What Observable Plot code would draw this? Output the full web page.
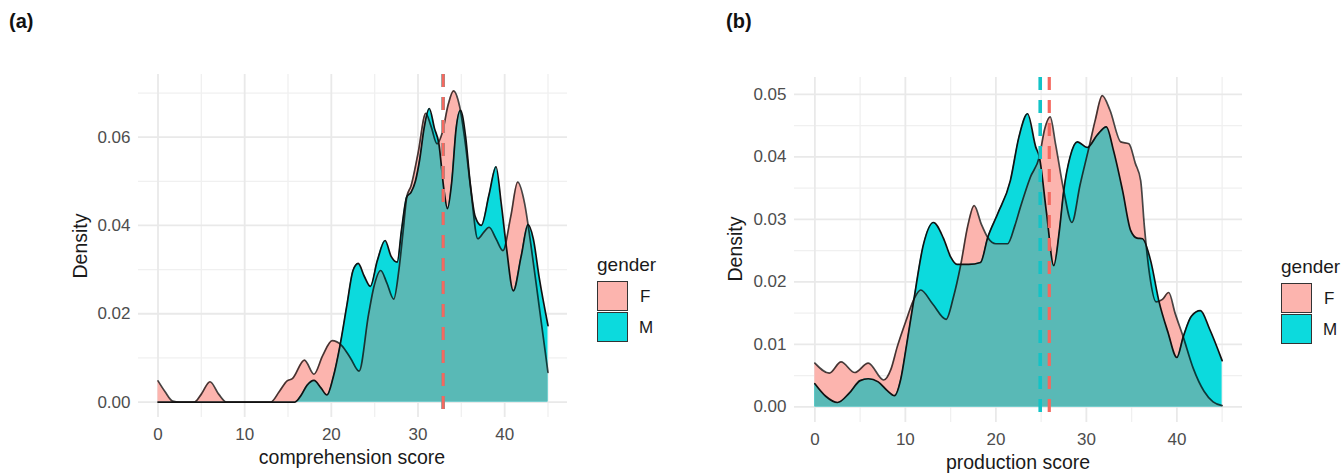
<!DOCTYPE html>
<html>
<head>
<meta charset="utf-8">
<script src="https://cdn.jsdelivr.net/npm/d3@7"></script>
<script src="https://cdn.jsdelivr.net/npm/@observablehq/plot@0.6"></script>
<style>
  html, body { margin: 0; padding: 0; background: #ffffff; }
  #fig { position: relative; width: 1343px; height: 473px; overflow: hidden; font-family: "Liberation Sans", Arial, sans-serif; }
  .abs { position: absolute; white-space: nowrap; }
  .panel { position: absolute; top: 0; }
  .tag { font-weight: bold; font-size: 20px; color: #111; }
  .atitle { font-size: 19.5px; color: #1a1a1a; transform: translate(-50%, -50%); }
  .ytitle { font-size: 19.5px; color: #1a1a1a; transform: translate(-50%, -50%) rotate(-90deg); }
  .ltitle { font-size: 19px; color: #1a1a1a; transform: translateY(-50%); }
  .lkey { width: 29px; height: 28px; border: 1.6px solid #333; box-sizing: content-box; }
  .llab { font-size: 17px; color: #1a1a1a; transform: translateY(-50%); }
</style>
</head>
<body>
<div id="fig"></div>
<script>
// ---------------- data ----------------
const genders = ["F", "M"];
const xMajor = [0, 10, 20, 30, 40];
const xMinor = [5, 15, 25, 35, 45];

// (a) comprehension score densities
const aFx = [0, 0.8, 1.7, 2.5, 4.2, 5.0, 6.0, 7.0, 7.9, 13.0, 14.0, 14.9, 15.5, 16.9, 18.0, 19.0, 20.1, 21.2, 22.2, 23.2, 24.3, 24.9, 25.7, 26.4, 27.2, 27.8, 28.3, 28.7, 29.2, 30.0, 30.9, 31.5, 32.2, 32.8, 33.5, 34.1, 34.8, 35.5, 36.1, 36.9, 37.6, 38.2, 39.0, 39.8, 40.7, 41.5, 42.3, 43.0, 44.0, 45];
const aFy = [0.0048, 0.0024, 0.0002, 0, 0, 0.0018, 0.0046, 0.0018, 0, 0, 0.0024, 0.0048, 0.0053, 0.0095, 0.0063, 0.0105, 0.0139, 0.0128, 0.0100, 0.0070, 0.0199, 0.0260, 0.0298, 0.0270, 0.0233, 0.0300, 0.0390, 0.0464, 0.0490, 0.0563, 0.0654, 0.0625, 0.0585, 0.0610, 0.0675, 0.0705, 0.0670, 0.0580, 0.0480, 0.0370, 0.0385, 0.0396, 0.0370, 0.0343, 0.0420, 0.0498, 0.0450, 0.0360, 0.0214, 0.0067];
const aMx = [0, 15.8, 16.5, 17.2, 18.0, 18.8, 19.5, 20.2, 21.0, 21.8, 22.5, 23.1, 23.8, 24.5, 25.3, 26.2, 26.9, 27.6, 28.1, 28.7, 29.2, 29.7, 30.2, 30.7, 31.3, 31.9, 32.4, 33.0, 33.4, 33.9, 34.4, 34.9, 35.5, 36.0, 36.6, 37.3, 38.2, 39.0, 39.6, 40.2, 41.0, 41.9, 42.7, 43.3, 44.0, 45];
const aMy = [0, 0, 0.0015, 0.0038, 0.0049, 0.0032, 0.0016, 0.0055, 0.0128, 0.0220, 0.0298, 0.0314, 0.0285, 0.0262, 0.0320, 0.0366, 0.0330, 0.0317, 0.0390, 0.0465, 0.0475, 0.0500, 0.0550, 0.0620, 0.0665, 0.0620, 0.0586, 0.0480, 0.0438, 0.0500, 0.0620, 0.0661, 0.0600, 0.0500, 0.0420, 0.0400, 0.0470, 0.0533, 0.0450, 0.0351, 0.0252, 0.0330, 0.0402, 0.0370, 0.0280, 0.0173];
const aMeans = { F: 32.9, M: 32.9 };
const aYMajor = [0, 0.02, 0.04, 0.06];
const aYMinor = [0.01, 0.03, 0.05, 0.07];

// (b) production score densities
const bFx = [0, 1.6, 2.9, 4.4, 5.9, 7.6, 8.4, 9.1, 10.1, 11.0, 11.7, 13.0, 14.5, 15.3, 16.1, 16.9, 17.6, 18.4, 19.1, 20.0, 21.3, 22.1, 22.7, 23.8, 24.8, 25.4, 26.0, 26.6, 27.5, 28.4, 29.3, 30.3, 31.0, 31.75, 32.6, 33.8, 34.7, 35.4, 36.0, 36.4, 37.0, 37.7, 38.4, 39.1, 39.8, 40.7, 41.8, 43.0, 44.0, 45];
const bFy = [0.0070, 0.0054, 0.0072, 0.0055, 0.0070, 0.0043, 0.0060, 0.0096, 0.0139, 0.0174, 0.0187, 0.0165, 0.0140, 0.0175, 0.0226, 0.0290, 0.0322, 0.0292, 0.0271, 0.0261, 0.0261, 0.0290, 0.0319, 0.0367, 0.0400, 0.0445, 0.0464, 0.0420, 0.0346, 0.0295, 0.0355, 0.0416, 0.0460, 0.0498, 0.0475, 0.0424, 0.0421, 0.0390, 0.0362, 0.0290, 0.0210, 0.0168, 0.0172, 0.0183, 0.0150, 0.0112, 0.0062, 0.0025, 0.0008, 0.0002];
const bMx = [0, 1.2, 2.5, 3.8, 5.0, 5.9, 7.0, 8.0, 8.8, 9.5, 10.1, 10.9, 12.0, 13.1, 14.2, 15.0, 15.7, 17.0, 18.3, 19.1, 20.2, 21.6, 22.55, 23.5, 24.4, 24.8, 25.6, 26.4, 27.0, 27.5, 28.2, 29.0, 30.1, 31.2, 32.2, 33.0, 34.0, 34.9, 35.6, 36.2, 37.1, 38.0, 39.0, 40.0, 40.7, 41.6, 42.6, 43.6, 45];
const bMy = [0.0037, 0.0017, 0.0007, 0.0022, 0.0042, 0.0045, 0.0040, 0.0026, 0.0018, 0.0045, 0.0096, 0.0168, 0.0260, 0.0295, 0.0270, 0.0240, 0.0228, 0.0228, 0.0231, 0.0271, 0.0309, 0.0362, 0.0432, 0.0469, 0.0416, 0.0400, 0.0310, 0.0226, 0.0280, 0.0346, 0.0400, 0.0424, 0.0415, 0.0435, 0.0448, 0.0410, 0.0346, 0.0282, 0.0270, 0.0269, 0.0234, 0.0170, 0.0120, 0.0079, 0.0112, 0.0145, 0.0154, 0.0125, 0.0074];
const bMeans = { F: 25.9, M: 24.9 };
const bYMajor = [0, 0.01, 0.02, 0.03, 0.04, 0.05];
const bYMinor = [0.005, 0.015, 0.025, 0.035, 0.045];

// ---------------- styles ----------------
const PINK = "#fcb4ae";
const CYAN = "#0cdadd";
const OVERLAP = "#59b9b6";
const RED = "#f5685f";
const TEAL = "#12c3c7";

function rows(xs, ys) { return xs.map((x, i) => ({x, y: ys[i]})); }

let clipCount = 0;
function panel(cfg) {
  const F = rows(cfg.fx, cfg.fy);
  const M = rows(cfg.mx, cfg.my);
  const curve = "monotone-x";
  const svg = Plot.plot({
    width: cfg.width, height: 473,
    marginLeft: cfg.ml, marginRight: cfg.mr, marginTop: cfg.mt, marginBottom: cfg.mb,
    style: {fontFamily: "'Liberation Sans', Arial, sans-serif", fontSize: "17px", color: "#4d4d4d", background: "transparent", overflow: "visible"},
    x: {domain: [-2.25, 47.25]},
    y: {domain: cfg.yDomain},
    marks: [
      Plot.ruleX(xMinor, {stroke: "#f0f0f0", strokeWidth: 1.3}),
      Plot.ruleY(cfg.yMinor, {stroke: "#f0f0f0", strokeWidth: 1.3}),
      Plot.ruleX(xMajor, {stroke: "#e9e9e9", strokeWidth: 1.8}),
      Plot.ruleY(cfg.yMajor, {stroke: "#e9e9e9", strokeWidth: 1.8}),
      Plot.areaY(F, {x: "x", y: "y", fill: PINK, curve}),
      Plot.areaY(M, {x: "x", y: "y", fill: CYAN, curve}),
      Plot.areaY(M, {x: "x", y: "y", fill: OVERLAP, curve}),
      Plot.lineY(F, {x: "x", y: "y", stroke: "#000", strokeOpacity: 0.72, strokeWidth: 1.7, curve}),
      Plot.lineY(M, {x: "x", y: "y", stroke: "#111", strokeWidth: 1.7, curve}),
      Plot.ruleX([cfg.means.M], {stroke: TEAL, strokeWidth: 3.6, strokeDasharray: "13,10"}),
      Plot.ruleX([cfg.means.F], {stroke: RED, strokeWidth: 3.2, strokeDasharray: "13,10"}),
      Plot.axisX({ticks: xMajor, tickSize: 0, tickPadding: 10, label: null, fontSize: 17}),
      Plot.axisY({ticks: cfg.yMajor, tickSize: 0, tickPadding: 8, tickFormat: d3.format(".2f"), label: null, fontSize: 17})
    ]
  });
  // overlap area: clip the third area (M) to the F area shape
  const areas = svg.querySelectorAll('g[aria-label="area"]');
  if (areas.length >= 3) {
    const fPath = areas[0].querySelector("path");
    const id = "clipF" + (clipCount++);
    const ns = "http://www.w3.org/2000/svg";
    const defs = document.createElementNS(ns, "defs");
    const cp = document.createElementNS(ns, "clipPath");
    cp.setAttribute("id", id);
    const p = document.createElementNS(ns, "path");
    p.setAttribute("d", fPath.getAttribute("d"));
    const tr = areas[0].getAttribute("transform");
    if (tr) p.setAttribute("transform", tr);
    cp.appendChild(p);
    defs.appendChild(cp);
    svg.insertBefore(defs, svg.firstChild);
    const wrap = document.createElementNS(ns, "g");
    wrap.setAttribute("clip-path", `url(#${id})`);
    areas[2].parentNode.insertBefore(wrap, areas[2]);
    wrap.appendChild(areas[2]);
  }
  return svg;
}

const fig = document.getElementById("fig");
function add(el, left) { const d = document.createElement("div"); d.className = "panel"; d.style.left = left + "px"; d.appendChild(el); fig.appendChild(d); }
function txt(cls, text, left, top) { const d = document.createElement("div"); d.className = "abs " + cls; d.textContent = text; d.style.left = left + "px"; d.style.top = top + "px"; fig.appendChild(d); return d; }
function key(color, left, top) { const d = document.createElement("div"); d.className = "abs lkey"; d.style.background = color; d.style.left = left + "px"; d.style.top = top + "px"; fig.appendChild(d); }

add(panel({fx: aFx, fy: aFy, mx: aMx, my: aMy, means: aMeans, yDomain: [-0.0035, 0.0742], yMajor: aYMajor, yMinor: aYMinor, width: 580, ml: 138, mr: 13, mt: 74, mb: 56}), 0);
add(panel({fx: bFx, fy: bFy, mx: bMx, my: bMy, means: bMeans, yDomain: [-0.0025, 0.0527], yMajor: bYMajor, yMinor: bYMinor, width: 580, ml: 124, mr: 8, mt: 77, mb: 51}), 670);

// panel tags & axis titles
txt("tag", "(a)", 9, 10);
txt("tag", "(b)", 726, 10);
txt("atitle", "comprehension score", 352, 457);
txt("atitle", "production score", 1018, 462);
txt("ytitle", "Density", 80, 246);
txt("ytitle", "Density", 735, 249);

// legends
function legend(left, top) {
  txt("ltitle", "gender", left, top);
  key(PINK, left, top + 16);
  key(CYAN, left, top + 47);
  txt("llab", genders[0], left + 43, top + 32);
  txt("llab", genders[1], left + 42, top + 63);
}
legend(597, 265);
legend(1281, 267);
</script>
</body>
</html>
